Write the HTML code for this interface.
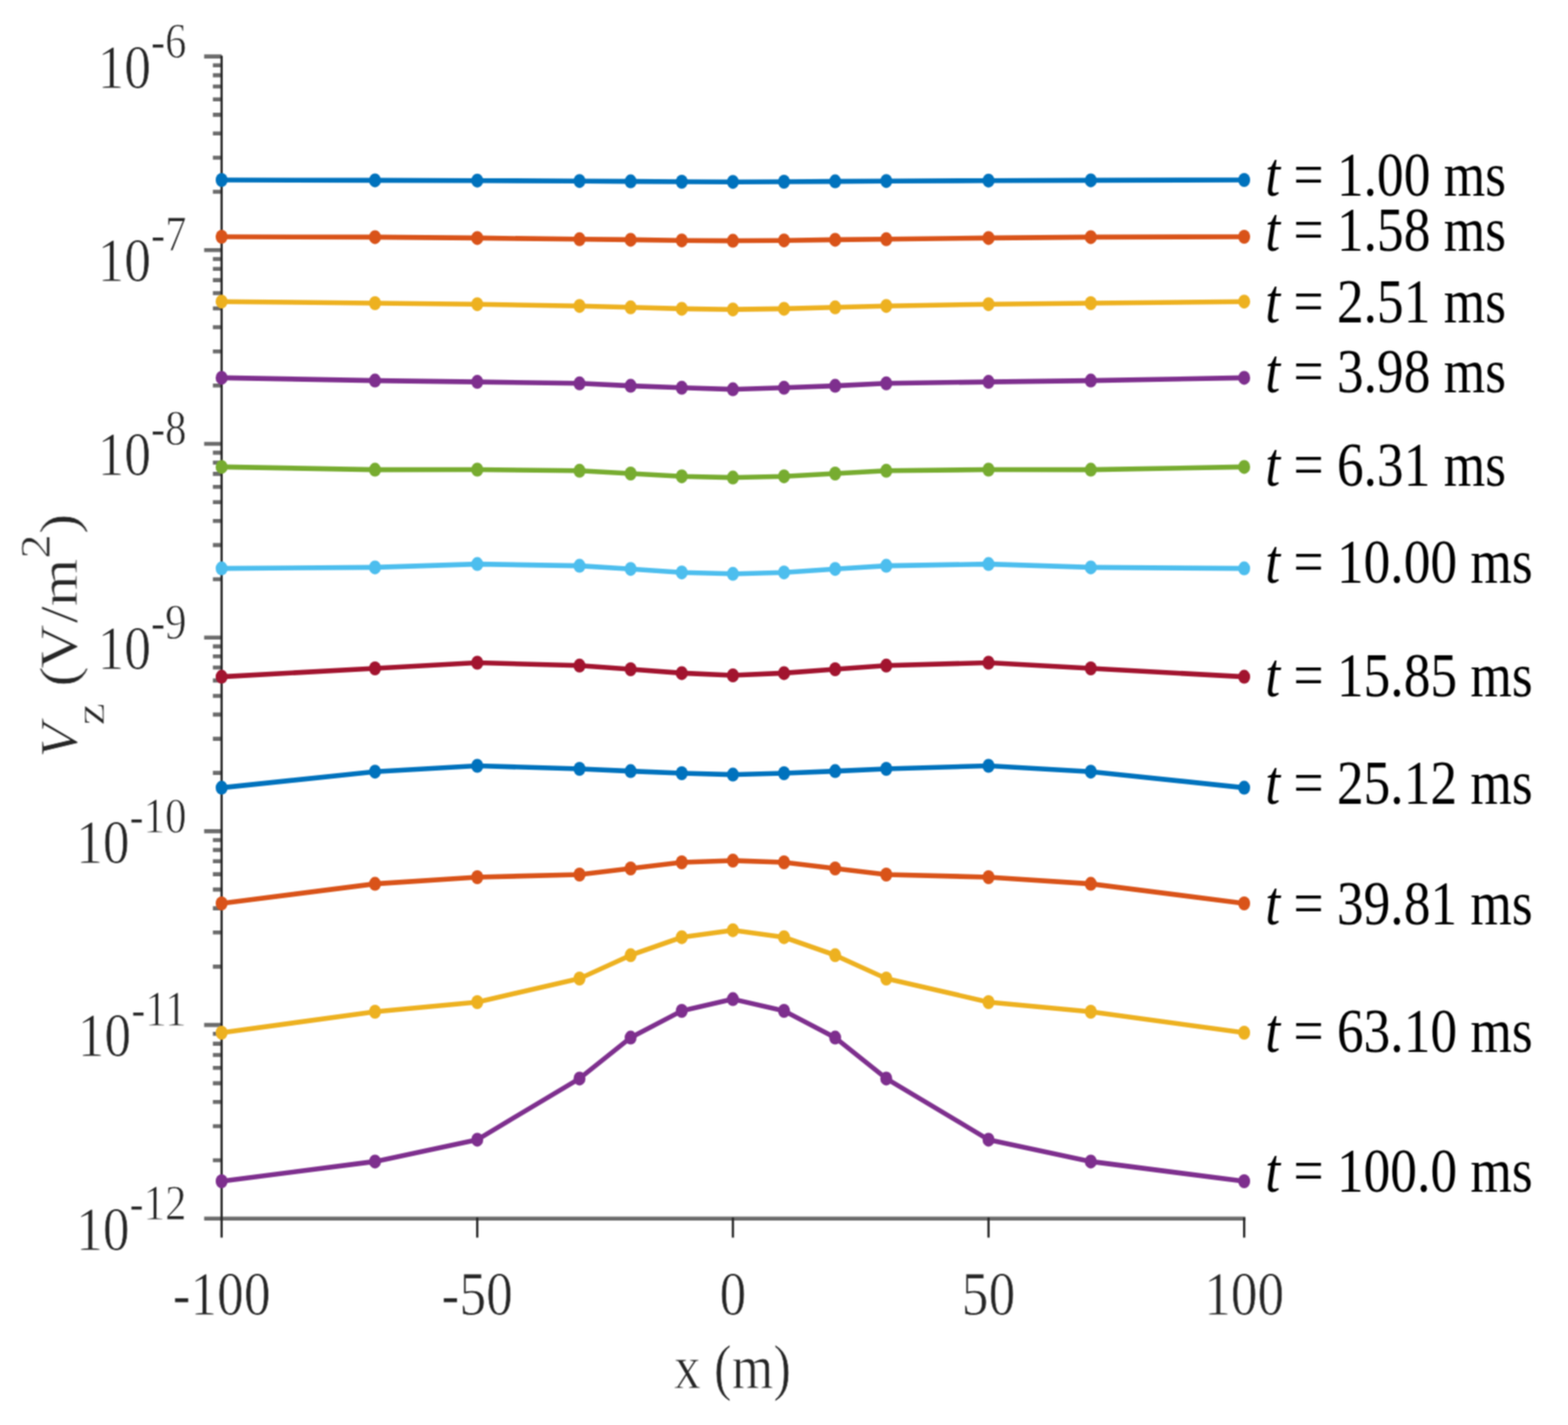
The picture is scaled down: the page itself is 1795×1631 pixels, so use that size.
<!DOCTYPE html>
<html lang="en"><head><meta charset="utf-8"><title>Vz profiles</title>
<style>html,body{margin:0;padding:0;background:#fff}svg{display:block}text{font-family:"Liberation Serif","DejaVu Serif",serif;fill:#262626;stroke:#fff;stroke-width:0.8px}.k{fill:#000;stroke:none}.i{font-style:italic}</style></head><body>
<svg width="1795" height="1631" viewBox="0 0 1795 1631">
<rect width="1795" height="1631" fill="#fff"/>
<defs><filter id="b" x="0" y="0" width="1795" height="1631" filterUnits="userSpaceOnUse" color-interpolation-filters="sRGB"><feConvolveMatrix order="3" kernelMatrix="1 2 1 2 4 2 1 2 1" divisor="16" edgeMode="duplicate" preserveAlpha="false"/></filter></defs>
<g filter="url(#b)">
<g transform="scale(0.8550 1)">
<g stroke="#262626" fill="none" stroke-linecap="butt">
<path d="M273.33 64.60H296.73M285.03 219.56H296.73M285.03 180.52H296.73M285.03 152.82H296.73M285.03 131.34H296.73M285.03 113.78H296.73M285.03 98.94H296.73M285.03 86.08H296.73M285.03 74.74H296.73M273.33 286.30H296.73M285.03 441.26H296.73M285.03 402.22H296.73M285.03 374.52H296.73M285.03 353.04H296.73M285.03 335.48H296.73M285.03 320.64H296.73M285.03 307.78H296.73M285.03 296.44H296.73M273.33 508.00H296.73M285.03 662.96H296.73M285.03 623.92H296.73M285.03 596.22H296.73M285.03 574.74H296.73M285.03 557.18H296.73M285.03 542.34H296.73M285.03 529.48H296.73M285.03 518.14H296.73M273.33 729.70H296.73M285.03 884.66H296.73M285.03 845.62H296.73M285.03 817.92H296.73M285.03 796.44H296.73M285.03 778.88H296.73M285.03 764.04H296.73M285.03 751.18H296.73M285.03 739.84H296.73M273.33 951.40H296.73M285.03 1106.36H296.73M285.03 1067.32H296.73M285.03 1039.62H296.73M285.03 1018.14H296.73M285.03 1000.58H296.73M285.03 985.74H296.73M285.03 972.88H296.73M285.03 961.54H296.73M273.33 1173.10H296.73M285.03 1328.06H296.73M285.03 1289.02H296.73M285.03 1261.32H296.73M285.03 1239.84H296.73M285.03 1222.28H296.73M285.03 1207.44H296.73M285.03 1194.58H296.73M285.03 1183.24H296.73M273.33 1394.80H1667.37" stroke-width="4.60" stroke-opacity="0.68"/>
<path d="M296.73 63.80V1416.50M639.01 1393.50V1416.50M981.29 1393.50V1416.50M1323.57 1393.50V1416.50M1665.85 1393.50V1416.50" stroke-width="3.00"/>
</g>
<g fill="#0072BD" stroke="none"><polyline points="296.73,206.00 502.09,206.40 639.01,206.70 775.92,207.20 844.37,207.60 912.83,208.00 981.29,208.20 1049.74,208.00 1118.20,207.60 1186.65,207.20 1323.57,206.70 1460.48,206.40 1665.85,206.00" fill="none" stroke="#0072BD" stroke-width="5.60" stroke-linejoin="round"/>
<circle cx="296.73" cy="206.00" r="8.00"/><circle cx="502.09" cy="206.40" r="8.00"/><circle cx="639.01" cy="206.70" r="8.00"/><circle cx="775.92" cy="207.20" r="8.00"/><circle cx="844.37" cy="207.60" r="8.00"/><circle cx="912.83" cy="208.00" r="8.00"/><circle cx="981.29" cy="208.20" r="8.00"/><circle cx="1049.74" cy="208.00" r="8.00"/><circle cx="1118.20" cy="207.60" r="8.00"/><circle cx="1186.65" cy="207.20" r="8.00"/><circle cx="1323.57" cy="206.70" r="8.00"/><circle cx="1460.48" cy="206.40" r="8.00"/><circle cx="1665.85" cy="206.00" r="8.00"/>
</g>
<g fill="#D95319" stroke="none"><polyline points="296.73,271.00 502.09,271.40 639.01,272.40 775.92,273.80 844.37,274.40 912.83,275.20 981.29,275.60 1049.74,275.20 1118.20,274.40 1186.65,273.80 1323.57,272.40 1460.48,271.40 1665.85,271.00" fill="none" stroke="#D95319" stroke-width="5.60" stroke-linejoin="round"/>
<circle cx="296.73" cy="271.00" r="8.00"/><circle cx="502.09" cy="271.40" r="8.00"/><circle cx="639.01" cy="272.40" r="8.00"/><circle cx="775.92" cy="273.80" r="8.00"/><circle cx="844.37" cy="274.40" r="8.00"/><circle cx="912.83" cy="275.20" r="8.00"/><circle cx="981.29" cy="275.60" r="8.00"/><circle cx="1049.74" cy="275.20" r="8.00"/><circle cx="1118.20" cy="274.40" r="8.00"/><circle cx="1186.65" cy="273.80" r="8.00"/><circle cx="1323.57" cy="272.40" r="8.00"/><circle cx="1460.48" cy="271.40" r="8.00"/><circle cx="1665.85" cy="271.00" r="8.00"/>
</g>
<g fill="#EDB120" stroke="none"><polyline points="296.73,345.20 502.09,347.00 639.01,348.20 775.92,350.20 844.37,351.80 912.83,353.40 981.29,354.20 1049.74,353.40 1118.20,351.80 1186.65,350.20 1323.57,348.20 1460.48,347.00 1665.85,345.20" fill="none" stroke="#EDB120" stroke-width="5.60" stroke-linejoin="round"/>
<circle cx="296.73" cy="345.20" r="8.00"/><circle cx="502.09" cy="347.00" r="8.00"/><circle cx="639.01" cy="348.20" r="8.00"/><circle cx="775.92" cy="350.20" r="8.00"/><circle cx="844.37" cy="351.80" r="8.00"/><circle cx="912.83" cy="353.40" r="8.00"/><circle cx="981.29" cy="354.20" r="8.00"/><circle cx="1049.74" cy="353.40" r="8.00"/><circle cx="1118.20" cy="351.80" r="8.00"/><circle cx="1186.65" cy="350.20" r="8.00"/><circle cx="1323.57" cy="348.20" r="8.00"/><circle cx="1460.48" cy="347.00" r="8.00"/><circle cx="1665.85" cy="345.20" r="8.00"/>
</g>
<g fill="#7E2F8E" stroke="none"><polyline points="296.73,432.40 502.09,435.60 639.01,437.10 775.92,438.80 844.37,441.60 912.83,443.80 981.29,445.60 1049.74,443.80 1118.20,441.60 1186.65,438.80 1323.57,437.10 1460.48,435.60 1665.85,432.40" fill="none" stroke="#7E2F8E" stroke-width="5.60" stroke-linejoin="round"/>
<circle cx="296.73" cy="432.40" r="8.00"/><circle cx="502.09" cy="435.60" r="8.00"/><circle cx="639.01" cy="437.10" r="8.00"/><circle cx="775.92" cy="438.80" r="8.00"/><circle cx="844.37" cy="441.60" r="8.00"/><circle cx="912.83" cy="443.80" r="8.00"/><circle cx="981.29" cy="445.60" r="8.00"/><circle cx="1049.74" cy="443.80" r="8.00"/><circle cx="1118.20" cy="441.60" r="8.00"/><circle cx="1186.65" cy="438.80" r="8.00"/><circle cx="1323.57" cy="437.10" r="8.00"/><circle cx="1460.48" cy="435.60" r="8.00"/><circle cx="1665.85" cy="432.40" r="8.00"/>
</g>
<g fill="#77AC30" stroke="none"><polyline points="296.73,534.40 502.09,537.60 639.01,537.50 775.92,538.80 844.37,542.00 912.83,545.20 981.29,546.60 1049.74,545.20 1118.20,542.00 1186.65,538.80 1323.57,537.50 1460.48,537.60 1665.85,534.40" fill="none" stroke="#77AC30" stroke-width="5.60" stroke-linejoin="round"/>
<circle cx="296.73" cy="534.40" r="8.00"/><circle cx="502.09" cy="537.60" r="8.00"/><circle cx="639.01" cy="537.50" r="8.00"/><circle cx="775.92" cy="538.80" r="8.00"/><circle cx="844.37" cy="542.00" r="8.00"/><circle cx="912.83" cy="545.20" r="8.00"/><circle cx="981.29" cy="546.60" r="8.00"/><circle cx="1049.74" cy="545.20" r="8.00"/><circle cx="1118.20" cy="542.00" r="8.00"/><circle cx="1186.65" cy="538.80" r="8.00"/><circle cx="1323.57" cy="537.50" r="8.00"/><circle cx="1460.48" cy="537.60" r="8.00"/><circle cx="1665.85" cy="534.40" r="8.00"/>
</g>
<g fill="#4DBEEE" stroke="none"><polyline points="296.73,650.60 502.09,649.40 639.01,645.60 775.92,647.60 844.37,651.20 912.83,655.20 981.29,656.80 1049.74,655.20 1118.20,651.20 1186.65,647.60 1323.57,645.60 1460.48,649.40 1665.85,650.60" fill="none" stroke="#4DBEEE" stroke-width="5.60" stroke-linejoin="round"/>
<circle cx="296.73" cy="650.60" r="8.00"/><circle cx="502.09" cy="649.40" r="8.00"/><circle cx="639.01" cy="645.60" r="8.00"/><circle cx="775.92" cy="647.60" r="8.00"/><circle cx="844.37" cy="651.20" r="8.00"/><circle cx="912.83" cy="655.20" r="8.00"/><circle cx="981.29" cy="656.80" r="8.00"/><circle cx="1049.74" cy="655.20" r="8.00"/><circle cx="1118.20" cy="651.20" r="8.00"/><circle cx="1186.65" cy="647.60" r="8.00"/><circle cx="1323.57" cy="645.60" r="8.00"/><circle cx="1460.48" cy="649.40" r="8.00"/><circle cx="1665.85" cy="650.60" r="8.00"/>
</g>
<g fill="#A2142F" stroke="none"><polyline points="296.73,774.60 502.09,765.00 639.01,758.50 775.92,761.80 844.37,766.00 912.83,770.40 981.29,773.00 1049.74,770.40 1118.20,766.00 1186.65,761.80 1323.57,758.50 1460.48,765.00 1665.85,774.60" fill="none" stroke="#A2142F" stroke-width="5.60" stroke-linejoin="round"/>
<circle cx="296.73" cy="774.60" r="8.00"/><circle cx="502.09" cy="765.00" r="8.00"/><circle cx="639.01" cy="758.50" r="8.00"/><circle cx="775.92" cy="761.80" r="8.00"/><circle cx="844.37" cy="766.00" r="8.00"/><circle cx="912.83" cy="770.40" r="8.00"/><circle cx="981.29" cy="773.00" r="8.00"/><circle cx="1049.74" cy="770.40" r="8.00"/><circle cx="1118.20" cy="766.00" r="8.00"/><circle cx="1186.65" cy="761.80" r="8.00"/><circle cx="1323.57" cy="758.50" r="8.00"/><circle cx="1460.48" cy="765.00" r="8.00"/><circle cx="1665.85" cy="774.60" r="8.00"/>
</g>
<g fill="#0072BD" stroke="none"><polyline points="296.73,901.60 502.09,883.20 639.01,876.50 775.92,880.00 844.37,882.60 912.83,885.00 981.29,886.60 1049.74,885.00 1118.20,882.60 1186.65,880.00 1323.57,876.50 1460.48,883.20 1665.85,901.60" fill="none" stroke="#0072BD" stroke-width="5.60" stroke-linejoin="round"/>
<circle cx="296.73" cy="901.60" r="8.00"/><circle cx="502.09" cy="883.20" r="8.00"/><circle cx="639.01" cy="876.50" r="8.00"/><circle cx="775.92" cy="880.00" r="8.00"/><circle cx="844.37" cy="882.60" r="8.00"/><circle cx="912.83" cy="885.00" r="8.00"/><circle cx="981.29" cy="886.60" r="8.00"/><circle cx="1049.74" cy="885.00" r="8.00"/><circle cx="1118.20" cy="882.60" r="8.00"/><circle cx="1186.65" cy="880.00" r="8.00"/><circle cx="1323.57" cy="876.50" r="8.00"/><circle cx="1460.48" cy="883.20" r="8.00"/><circle cx="1665.85" cy="901.60" r="8.00"/>
</g>
<g fill="#D95319" stroke="none"><polyline points="296.73,1034.00 502.09,1011.60 639.01,1004.00 775.92,1001.00 844.37,994.00 912.83,987.00 981.29,985.00 1049.74,987.00 1118.20,994.00 1186.65,1001.00 1323.57,1004.00 1460.48,1011.60 1665.85,1034.00" fill="none" stroke="#D95319" stroke-width="5.60" stroke-linejoin="round"/>
<circle cx="296.73" cy="1034.00" r="8.00"/><circle cx="502.09" cy="1011.60" r="8.00"/><circle cx="639.01" cy="1004.00" r="8.00"/><circle cx="775.92" cy="1001.00" r="8.00"/><circle cx="844.37" cy="994.00" r="8.00"/><circle cx="912.83" cy="987.00" r="8.00"/><circle cx="981.29" cy="985.00" r="8.00"/><circle cx="1049.74" cy="987.00" r="8.00"/><circle cx="1118.20" cy="994.00" r="8.00"/><circle cx="1186.65" cy="1001.00" r="8.00"/><circle cx="1323.57" cy="1004.00" r="8.00"/><circle cx="1460.48" cy="1011.60" r="8.00"/><circle cx="1665.85" cy="1034.00" r="8.00"/>
</g>
<g fill="#EDB120" stroke="none"><polyline points="296.73,1182.00 502.09,1158.00 639.01,1147.00 775.92,1120.00 844.37,1093.30 912.83,1072.70 981.29,1064.70 1049.74,1072.70 1118.20,1093.30 1186.65,1120.00 1323.57,1147.00 1460.48,1158.00 1665.85,1182.00" fill="none" stroke="#EDB120" stroke-width="5.60" stroke-linejoin="round"/>
<circle cx="296.73" cy="1182.00" r="8.00"/><circle cx="502.09" cy="1158.00" r="8.00"/><circle cx="639.01" cy="1147.00" r="8.00"/><circle cx="775.92" cy="1120.00" r="8.00"/><circle cx="844.37" cy="1093.30" r="8.00"/><circle cx="912.83" cy="1072.70" r="8.00"/><circle cx="981.29" cy="1064.70" r="8.00"/><circle cx="1049.74" cy="1072.70" r="8.00"/><circle cx="1118.20" cy="1093.30" r="8.00"/><circle cx="1186.65" cy="1120.00" r="8.00"/><circle cx="1323.57" cy="1147.00" r="8.00"/><circle cx="1460.48" cy="1158.00" r="8.00"/><circle cx="1665.85" cy="1182.00" r="8.00"/>
</g>
<g fill="#7E2F8E" stroke="none"><polyline points="296.73,1352.00 502.09,1329.40 639.01,1304.40 775.92,1234.40 844.37,1187.60 912.83,1157.00 981.29,1143.60 1049.74,1157.00 1118.20,1187.60 1186.65,1234.40 1323.57,1304.40 1460.48,1329.40 1665.85,1352.00" fill="none" stroke="#7E2F8E" stroke-width="5.60" stroke-linejoin="round"/>
<circle cx="296.73" cy="1352.00" r="8.00"/><circle cx="502.09" cy="1329.40" r="8.00"/><circle cx="639.01" cy="1304.40" r="8.00"/><circle cx="775.92" cy="1234.40" r="8.00"/><circle cx="844.37" cy="1187.60" r="8.00"/><circle cx="912.83" cy="1157.00" r="8.00"/><circle cx="981.29" cy="1143.60" r="8.00"/><circle cx="1049.74" cy="1157.00" r="8.00"/><circle cx="1118.20" cy="1187.60" r="8.00"/><circle cx="1186.65" cy="1234.40" r="8.00"/><circle cx="1323.57" cy="1304.40" r="8.00"/><circle cx="1460.48" cy="1329.40" r="8.00"/><circle cx="1665.85" cy="1352.00" r="8.00"/>
</g>
<text x="249.71" y="100.80" font-size="71.50" text-anchor="end">10<tspan dy="-35.00" font-size="57.20">-6</tspan></text>
<text x="249.71" y="322.50" font-size="71.50" text-anchor="end">10<tspan dy="-35.00" font-size="57.20">-7</tspan></text>
<text x="249.71" y="544.20" font-size="71.50" text-anchor="end">10<tspan dy="-35.00" font-size="57.20">-8</tspan></text>
<text x="249.71" y="765.90" font-size="71.50" text-anchor="end">10<tspan dy="-35.00" font-size="57.20">-9</tspan></text>
<text x="249.71" y="987.60" font-size="71.50" text-anchor="end">10<tspan dy="-35.00" font-size="57.20">-10</tspan></text>
<text x="249.71" y="1209.30" font-size="71.50" text-anchor="end">10<tspan dy="-35.00" font-size="57.20">-11</tspan></text>
<text x="249.71" y="1431.00" font-size="71.50" text-anchor="end">10<tspan dy="-35.00" font-size="57.20">-12</tspan></text>
<text x="296.73" y="1504.80" font-size="71.50" text-anchor="middle">-100</text>
<text x="639.01" y="1504.80" font-size="71.50" text-anchor="middle">-50</text>
<text x="981.29" y="1504.80" font-size="71.50" text-anchor="middle">0</text>
<text x="1323.57" y="1504.80" font-size="71.50" text-anchor="middle">50</text>
<text x="1665.85" y="1504.80" font-size="71.50" text-anchor="middle">100</text>
<text x="980.70" y="1589.00" font-size="71.50" text-anchor="middle">x (m)</text>
<text class="i" transform="translate(102.81 867.30) rotate(-90) scale(0.9000 1)" font-size="71.50">V</text>
<text transform="translate(138.91 830.00) rotate(-90)" font-size="57.20">z</text>
<text transform="translate(102.81 786.00) rotate(-90) scale(0.9800 1)" font-size="71.50">(<tspan dx="-3.0">V</tspan><tspan dx="1.7">/m</tspan><tspan dy="-36.50" font-size="57.20">2</tspan><tspan dy="36.50" font-size="71.50">)</tspan></text>
<text class="k" x="1694.15" y="224.50" font-size="71.50"><tspan class="i">t</tspan> = 1.00 ms</text>
<text class="k" x="1694.15" y="286.70" font-size="71.50"><tspan class="i">t</tspan> = 1.58 ms</text>
<text class="k" x="1694.15" y="369.50" font-size="71.50"><tspan class="i">t</tspan> = 2.51 ms</text>
<text class="k" x="1694.15" y="448.90" font-size="71.50"><tspan class="i">t</tspan> = 3.98 ms</text>
<text class="k" x="1694.15" y="556.10" font-size="71.50"><tspan class="i">t</tspan> = 6.31 ms</text>
<text class="k" x="1694.15" y="667.00" font-size="71.50"><tspan class="i">t</tspan> = 10.00 ms</text>
<text class="k" x="1694.15" y="797.10" font-size="71.50"><tspan class="i">t</tspan> = 15.85 ms</text>
<text class="k" x="1694.15" y="920.40" font-size="71.50"><tspan class="i">t</tspan> = 25.12 ms</text>
<text class="k" x="1694.15" y="1058.30" font-size="71.50"><tspan class="i">t</tspan> = 39.81 ms</text>
<text class="k" x="1694.15" y="1203.70" font-size="71.50"><tspan class="i">t</tspan> = 63.10 ms</text>
<text class="k" x="1694.15" y="1363.70" font-size="71.50"><tspan class="i">t</tspan> = 100.0 ms</text>
</g>
</g>
</svg></body></html>
